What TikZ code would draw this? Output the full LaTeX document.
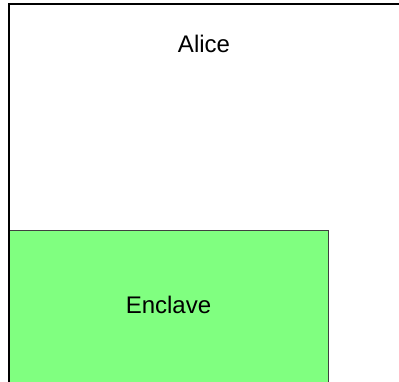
\documentclass[tikz,border=0pt]{standalone}
\usepackage{fontspec}
\setmainfont{Liberation Sans}
\usetikzlibrary{positioning}

\begin{document}
\begin{tikzpicture}[
    x=1pt, y=-1pt,
    every node/.style={font=\fontsize{24}{28}\selectfont, inner sep=0pt},
    party/.style   = {draw=black, line width=2pt, anchor=north west},
    enclave/.style = {draw=black!75, line width=1pt, fill=green!50,
                      anchor=north west},
  ]
  \clip (0,0) rectangle (399,381);
  % enclave first, so the party's edge stays on top
  \node[enclave, minimum width=320pt, minimum height=154pt,
        text depth=5pt] (encl) at (8,230) {Enclave};
  % outer party box, runs off the page on the right and at the bottom
  \node[party, minimum width=420pt, minimum height=400pt] (alice) at (8,3) {};
  \node[below=32pt of alice.north west, xshift=196pt] (alicelbl) {Alice};
\end{tikzpicture}
\end{document}
